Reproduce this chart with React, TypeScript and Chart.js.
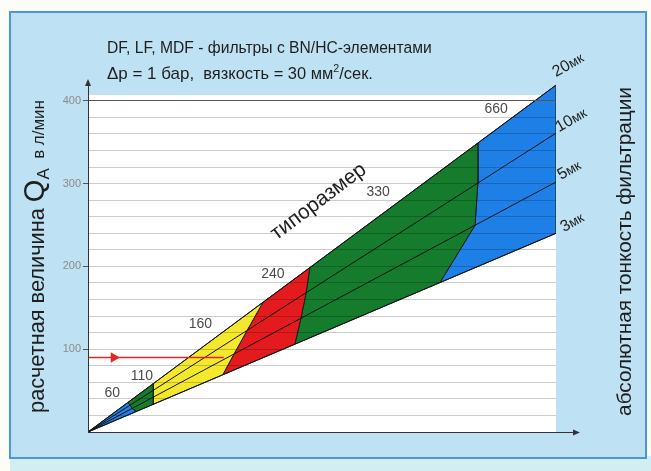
import React, { useEffect, useRef } from 'react';
import { Chart, registerables } from 'chart.js';

Chart.register(...registerables);

// ---------------- data ----------------
// filter sizes (типоразмер) and their band colours
const sizeLabels = ['60', '110', '160', '240', '330', '660'];
const sizeColors = ['#1e80e6', '#157b2d', '#f4e82e', '#e31b1e', '#157b2d', '#1e80e6'];
// filtration fineness lines (мк) and the flow each one reaches at the right edge (x = 100)
const finenessLabels = ['20', '10', '5', '3'];
const finenessEndFlow = [419, 361, 302, 240];
// x-position (0..100) of the size boundaries, measured along each fineness line
const sepOn20 = [0, 8.5, 13.9, 37.4, 47.4, 83.3, 100];
const sepOn10 = [0, 9.0, 13.9, 34.0, 46.6, 83.3, 100];
const sepOn5 = [0, 9.4, 13.9, 31.2, 45.5, 82.7, 100];
const sepOn3 = [0, 10.3, 13.9, 28.8, 44.2, 75.2, 100];
// where the size numbers are written (x 0..100, flow l/min)
const sizeLabelX = [5.2, 11.5, 24.0, 39.5, 62.0, 87.2];
const sizeLabelFlow = [47, 68, 130, 191, 290, 390];
// y axis
const yTickLabels = [100, 200, 300, 400];
const yGridStep = 20;
const yGridMax = 400;
const yAxisMax = 424;
const plotTopFlow = 407;
// example reading (red arrow)
const markerFlow = 90;
const markerArrowX = 5.5;
const markerEndX = 29;

const FONT = "'Liberation Sans', Arial, Helvetica, sans-serif";

type Part = { t: string; s: number; dy?: number; c?: string };

function richText(
  ctx: CanvasRenderingContext2D,
  parts: Part[],
  x: number,
  y: number,
  angle: number,
  align: 'left' | 'center',
  target?: number
) {
  ctx.save();
  ctx.translate(x, y);
  ctx.rotate(angle);
  ctx.textBaseline = 'alphabetic';
  ctx.textAlign = 'left';
  const measure = (k: number) =>
    parts.map((p) => {
      ctx.font = `${p.s * k}px ${FONT}`;
      return ctx.measureText(p.t).width;
    });
  let k = 1;
  let widths = measure(1);
  let total = widths.reduce((a, b) => a + b, 0);
  if (target) {
    k = target / total;
    widths = measure(k);
    total = widths.reduce((a, b) => a + b, 0);
  }
  let cx = align === 'center' ? -total / 2 : 0;
  parts.forEach((p, i) => {
    ctx.font = `${p.s * k}px ${FONT}`;
    ctx.fillStyle = p.c || '#1e1e1e';
    ctx.fillText(p.t, cx, (p.dy || 0) * k);
    cx += widths[i];
  });
  ctx.restore();
}

const decor = {
  id: 'decor',
  beforeDraw(chart: any) {
    const { ctx, width, height } = chart;
    const xs = chart.scales.x;
    const ys = chart.scales.y;
    ctx.save();
    ctx.fillStyle = '#fdfdf8';
    ctx.fillRect(0, 0, width, height);
    ctx.fillStyle = '#d2eef2';
    ctx.fillRect(10, 456, width - 10, height - 456);
    ctx.fillStyle = '#bfe1f4';
    ctx.fillRect(10, 12, 636, 446);
    ctx.strokeStyle = '#4b97d6';
    ctx.lineWidth = 2;
    ctx.strokeRect(10, 12, 636, 446);
    const x0 = xs.getPixelForValue(0);
    const x1 = xs.getPixelForValue(100);
    const yt = ys.getPixelForValue(plotTopFlow);
    const yb = ys.getPixelForValue(0);
    ctx.fillStyle = '#ffffff';
    ctx.fillRect(x0, yt, x1 - x0, yb - yt);
    ctx.restore();
  },
  afterDraw(chart: any) {
    const { ctx } = chart;
    const xs = chart.scales.x;
    const ys = chart.scales.y;
    const x0 = xs.getPixelForValue(0);
    const x1 = xs.getPixelForValue(100);
    const yb = ys.getPixelForValue(0);
    const top = chart.chartArea.top;
    ctx.save();
    // x axis extension with arrow
    ctx.strokeStyle = '#333';
    ctx.lineWidth = 1;
    ctx.beginPath();
    ctx.moveTo(x1, yb + 0.5);
    ctx.lineTo(x1 + 22, yb + 0.5);
    ctx.stroke();
    ctx.fillStyle = '#333';
    ctx.beginPath();
    ctx.moveTo(x1 + 24, yb + 0.5);
    ctx.lineTo(x1 + 17, yb - 2.5);
    ctx.lineTo(x1 + 17, yb + 3.5);
    ctx.closePath();
    ctx.fill();
    // y axis arrow
    ctx.beginPath();
    ctx.moveTo(x0, top - 2);
    ctx.lineTo(x0 - 3, top + 5);
    ctx.lineTo(x0 + 3, top + 5);
    ctx.closePath();
    ctx.fill();

    // titles
    richText(ctx, [{ t: 'DF, LF, MDF - фильтры с BN/HC-элементами', s: 17 }], 107, 53, 0, 'left', 325);
    richText(
      ctx,
      [
        { t: 'Δp = 1 бар,', s: 16 },
        { t: '  вязкость = 30 мм', s: 15.5 },
        { t: '2', s: 10, dy: -7 },
        { t: '/сек.', s: 15.5 },
      ],
      107,
      79,
      0,
      'left',
      266
    );
    // y axis title
    richText(
      ctx,
      [
        { t: 'расчетная величина ', s: 18 },
        { t: 'Q', s: 24 },
        { t: 'A', s: 14, dy: 4 },
        { t: '  в л/мин', s: 14 },
      ],
      44,
      256.5,
      -Math.PI / 2,
      'center',
      313
    );
    // right title
    richText(ctx, [{ t: 'абсолютная тонкость фильтрации', s: 18 }], 631, 251.5, -Math.PI / 2, 'center', 329);

    // size labels
    ctx.font = `14px ${FONT}`;
    ctx.fillStyle = '#4a4a4a';
    ctx.textAlign = 'center';
    ctx.textBaseline = 'middle';
    sizeLabels.forEach((lab, i) => {
      ctx.fillText(lab, xs.getPixelForValue(sizeLabelX[i]), ys.getPixelForValue(sizeLabelFlow[i]));
    });

    // типоразмер
    richText(
      ctx,
      [{ t: 'типоразмер', s: 17 }],
      xs.getPixelForValue(50),
      ys.getPixelForValue(280) + 6,
      (-37 * Math.PI) / 180,
      'center',
      114
    );

    // fineness labels at line ends
    const offs = [
      [0, -8],
      [3, -1],
      [5, -2],
      [8, -1],
    ];
    finenessLabels.forEach((lab, j) => {
      const px = xs.getPixelForValue(100) + offs[j][0];
      const py = ys.getPixelForValue(finenessEndFlow[j]) + offs[j][1];
      richText(
        ctx,
        [
          { t: lab, s: 16 },
          { t: 'мк', s: 13.5 },
        ],
        px,
        py,
        (-30 * Math.PI) / 180,
        'left'
      );
    });
    ctx.restore();
  },
};

export default function App() {
  const ref = useRef<HTMLCanvasElement>(null);
  useEffect(() => {
    document.body.style.margin = '0';
    const canvas = ref.current!;
    const seps = [sepOn20, sepOn10, sepOn5, sepOn3];
    const pt = (line: number, i: number) => ({
      x: seps[line][i],
      y: (seps[line][i] * finenessEndFlow[line]) / 100,
    });
    const regionSets = sizeLabels.map((lab, i) => ({
      label: lab,
      data: [pt(0, i), pt(1, i), pt(2, i), pt(3, i), pt(3, i + 1), pt(2, i + 1), pt(1, i + 1), pt(0, i + 1), pt(0, i)],
      backgroundColor: sizeColors[i],
      borderColor: '#1b1b1b',
      borderWidth: 1,
      fill: 'shape',
      pointRadius: 0,
      tension: 0,
      order: 3,
    }));
    const lineSets = finenessLabels.map((lab, j) => ({
      label: lab + 'мк',
      data: [
        { x: 0, y: 0 },
        { x: 100, y: finenessEndFlow[j] },
      ],
      borderColor: '#141414',
      borderWidth: 1,
      pointRadius: 0,
      fill: false,
      order: 2,
    }));
    const markerSet = {
      label: 'marker',
      data: [
        { x: 0, y: markerFlow },
        { x: markerArrowX, y: markerFlow },
        { x: markerEndX, y: markerFlow },
      ],
      borderColor: '#e2262a',
      borderWidth: 1.5,
      pointRadius: [0, 4.5, 0],
      pointStyle: 'triangle',
      rotation: 90,
      pointBackgroundColor: '#e2262a',
      pointBorderColor: '#e2262a',
      fill: false,
      order: 1,
    };
    const gridValues: number[] = [];
    for (let v = yGridStep; v <= yGridMax; v += yGridStep) gridValues.push(v);

    const chart = new Chart(canvas, {
      type: 'line',
      data: { datasets: [...regionSets, ...lineSets, markerSet] as any },
      options: {
        responsive: false,
        animation: false,
        events: [],
        layout: { padding: { left: 48, right: 95, top: 81, bottom: 39 } },
        plugins: { legend: { display: false }, tooltip: { enabled: false } },
        scales: {
          x: {
            type: 'linear',
            min: 0,
            max: 100,
            ticks: { display: false },
            grid: { display: false },
            border: { color: '#333', width: 1 },
            afterFit: (s: any) => {
              s.height = 0;
            },
          },
          y: {
            type: 'linear',
            min: 0,
            max: yAxisMax,
            afterBuildTicks: (s: any) => {
              s.ticks = gridValues.map((v) => ({ value: v }));
            },
            afterFit: (s: any) => {
              s.width = 40;
            },
            ticks: {
              padding: 2,
              color: '#8a8a8a',
              font: { family: FONT, size: 11 },
              callback: (v: any) => (yTickLabels.includes(Number(v)) ? String(v) : ''),
            },
            grid: {
              z: 1,
              tickLength: 5,
              lineWidth: 1,
              color: (c: any) => (c.tick && c.tick.value === yGridMax ? '#555' : 'rgba(0,0,0,0.2)'),
              tickColor: (c: any) => (c.tick && yTickLabels.includes(c.tick.value) ? '#555' : 'rgba(0,0,0,0)'),
            },
            border: { color: '#333', width: 1, z: 1 },
          },
        },
      },
      plugins: [decor],
    } as any);
    return () => chart.destroy();
  }, []);
  return (
    <div style={{ width: 651, height: 471 }}>
      <canvas ref={ref} width={651} height={471} style={{ display: 'block' }} />
    </div>
  );
}
